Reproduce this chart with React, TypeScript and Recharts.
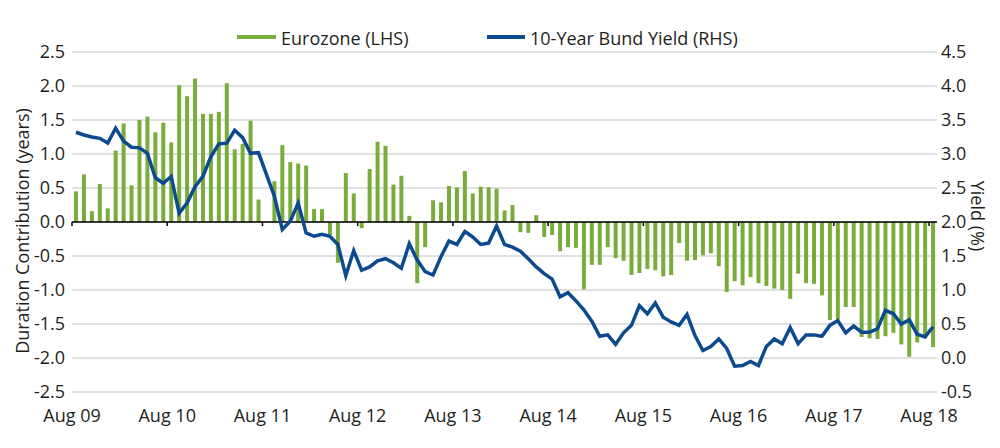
import React from "react";
import {
  ComposedChart,
  Bar,
  Line,
  XAxis,
  YAxis,
  CartesianGrid,
  ReferenceLine,
  Legend,
  Label,
} from "recharts";

// Monthly observations, Aug 09 .. Aug 18 (109 months)
const eurozone: (number | null)[] = [
  0.45, 0.70, 0.16, 0.56, 0.20, 1.05, 1.45, 0.54, 1.50, 1.55, 1.32, 1.46,
  1.17, 2.01, 1.85, 2.11, 1.59, 1.59, 1.62, 2.04, 1.07, 1.15, 1.49, 0.33,
  null, 0.60, 1.13, 0.88, 0.86, 0.83, 0.19, 0.19, -0.19, -0.60, 0.72, 0.42,
  -0.09, 0.78, 1.18, 1.12, 0.55, 0.68, 0.09, -0.90, -0.37, 0.32, 0.29, 0.53,
  0.51, 0.75, 0.42, 0.52, 0.51, 0.49, 0.17, 0.25, -0.15, -0.16, 0.10, -0.22,
  -0.19, -0.43, -0.37, -0.38, -0.99, -0.63, -0.63, -0.37, -0.53, -0.57, -0.78, -0.75,
  -0.69, -0.71, -0.80, -0.78, -0.31, -0.57, -0.56, -0.49, -0.46, -0.65, -1.03, -0.87,
  -0.93, -0.81, -0.90, -0.94, -0.98, -1.00, -1.13, -0.76, -0.90, -0.91, -1.08, -1.44,
  -1.43, -1.25, -1.25, -1.69, -1.71, -1.72, -1.68, -1.63, -1.80, -1.98, -1.77, -1.71,
  -1.84,
];

const bundYield: number[] = [
  3.32, 3.28, 3.25, 3.23, 3.16, 3.38, 3.19, 3.10, 3.09, 3.01, 2.65, 2.57,
  2.67, 2.13, 2.28, 2.52, 2.67, 2.96, 3.15, 3.16, 3.35, 3.24, 3.01, 3.02,
  2.70, 2.38, 1.89, 2.01, 2.28, 1.84, 1.79, 1.82, 1.79, 1.67, 1.21, 1.58,
  1.29, 1.34, 1.43, 1.46, 1.40, 1.32, 1.68, 1.44, 1.27, 1.22, 1.49, 1.72,
  1.67, 1.86, 1.78, 1.67, 1.69, 1.94, 1.67, 1.63, 1.57, 1.46, 1.34, 1.24,
  1.16, 0.90, 0.96, 0.84, 0.71, 0.54, 0.32, 0.34, 0.20, 0.37, 0.48, 0.77,
  0.65, 0.81, 0.60, 0.53, 0.48, 0.64, 0.33, 0.11, 0.17, 0.28, 0.14, -0.12,
  -0.11, -0.05, -0.11, 0.17, 0.28, 0.21, 0.45, 0.21, 0.34, 0.34, 0.32, 0.48,
  0.55, 0.37, 0.47, 0.38, 0.38, 0.43, 0.70, 0.65, 0.50, 0.56, 0.35, 0.31,
  0.46,
];

const yearLabels = [
  "Aug 09", "Aug 10", "Aug 11", "Aug 12", "Aug 13",
  "Aug 14", "Aug 15", "Aug 16", "Aug 17", "Aug 18",
];
const yearTickPositions = [0, 12, 24, 36, 48, 60, 72, 84, 96, 108];
const leftTicks = [-2.5, -2.0, -1.5, -1.0, -0.5, 0, 0.5, 1.0, 1.5, 2.0, 2.5];
const rightTicks = [-0.5, 0, 0.5, 1.0, 1.5, 2.0, 2.5, 3.0, 3.5, 4.0, 4.5];
const seriesNames = ["Eurozone (LHS)", "10-Year Bund Yield (RHS)"];
const axisTitles = ["Duration Contribution (years)", "Yield (%)"];

const GREEN = "#7aac3c";
const BLUE = "#0b4a8e";
const TEXT = "#231f20";
const FONT = "'Open Sans', 'Noto Sans', sans-serif";

const data = eurozone.map((v, i) => ({
  x: i + 0.5,
  eurozone: v,
  bund: bundYield[i],
}));

const LeftTitle = (props: any) => {
  const vb = props.viewBox || { x: 0, y: 0, width: 0, height: 0 };
  const cx = vb.x + 22;
  const cy = vb.y + vb.height / 2 + 9;
  return (
    <text
      x={cx}
      y={cy}
      transform={`rotate(-90 ${cx} ${cy})`}
      textAnchor="middle"
      dominantBaseline="central"
      fill={TEXT}
      fontSize={18}
      fontFamily={FONT}
    >
      {axisTitles[0]}
    </text>
  );
};

const RightTitle = (props: any) => {
  const vb = props.viewBox || { x: 0, y: 0, width: 0, height: 0 };
  const cx = vb.x + 41;
  const cy = vb.y + vb.height / 2 - 6;
  return (
    <text
      x={cx}
      y={cy}
      transform={`rotate(90 ${cx} ${cy})`}
      textAnchor="middle"
      dominantBaseline="central"
      fill={TEXT}
      fontSize={18}
      fontFamily={FONT}
    >
      {axisTitles[1]}
    </text>
  );
};

const renderLegend = () => (
  <svg width={1000} height={40} style={{ display: "block" }}>
    <line x1={237} x2={276} y1={21} y2={21} stroke={GREEN} strokeWidth={4} />
    <text x={281} y={29} fill={TEXT} fontSize={18} fontFamily={FONT}>
      {seriesNames[0]}
    </text>
    <line x1={487} x2={525} y1={21} y2={21} stroke={BLUE} strokeWidth={4} />
    <text x={530} y={29} fill={TEXT} fontSize={18} fontFamily={FONT}>
      {seriesNames[1]}
    </text>
  </svg>
);

const tickStyle = { fill: TEXT, fontSize: 18, fontFamily: FONT };

export default function App() {
  return (
    <div style={{ position: "absolute", left: 0, top: 0, width: 1000, height: 448, background: "#fff" }}>
      <ComposedChart
        width={1000}
        height={448}
        data={data}
        margin={{ top: 52, right: 0, bottom: 26, left: 0 }}
      >
        <CartesianGrid
          yAxisId="left"
          vertical={false}
          stroke="#d6d6d6"
          strokeWidth={1.5}
        />
        <XAxis
          type="number"
          dataKey="x"
          domain={[0, 109]}
          ticks={yearTickPositions}
          interval={0}
          tickFormatter={(v: number) => yearLabels[Math.round(v / 12)]}
          axisLine={false}
          tickLine={false}
          tickSize={6}
          tickMargin={11}
          height={30}
          tick={tickStyle}
        />
        <YAxis
          yAxisId="left"
          orientation="left"
          width={72}
          domain={[-2.5, 2.5]}
          ticks={leftTicks}
          interval={0}
          tickFormatter={(v: number) => v.toFixed(1)}
          axisLine={false}
          tickLine={false}
          tickSize={5}
          tickMargin={2}
          tick={tickStyle}
        >
          <Label content={LeftTitle} />
        </YAxis>
        <YAxis
          yAxisId="right"
          orientation="right"
          width={63}
          domain={[-0.5, 4.5]}
          ticks={rightTicks}
          interval={0}
          tickFormatter={(v: number) => v.toFixed(1)}
          axisLine={false}
          tickLine={false}
          tickSize={2}
          tickMargin={2}
          tick={tickStyle}
        >
          <Label content={RightTitle} />
        </YAxis>
        <Legend
          layout="horizontal"
          verticalAlign="middle"
          align="center"
          wrapperStyle={{ position: "absolute", top: 16, left: 0, width: 1000, height: 40 }}
          content={renderLegend}
        />
        <Bar
          yAxisId="left"
          dataKey="eurozone"
          fill={GREEN}
          barSize={4}
          isAnimationActive={false}
        />
        <ReferenceLine yAxisId="left" y={0} stroke="#000" strokeWidth={1.5} />
        {yearTickPositions.map((t) => (
          <ReferenceLine
            key={t}
            yAxisId="left"
            segment={[
              { x: t, y: 0 },
              { x: t, y: -0.06 },
            ]}
            stroke="#000"
            strokeWidth={1.5}
          />
        ))}
        <Line
          yAxisId="right"
          type="linear"
          dataKey="bund"
          stroke={BLUE}
          strokeWidth={3.5}
          dot={false}
          activeDot={false}
          isAnimationActive={false}
        />
      </ComposedChart>
    </div>
  );
}
